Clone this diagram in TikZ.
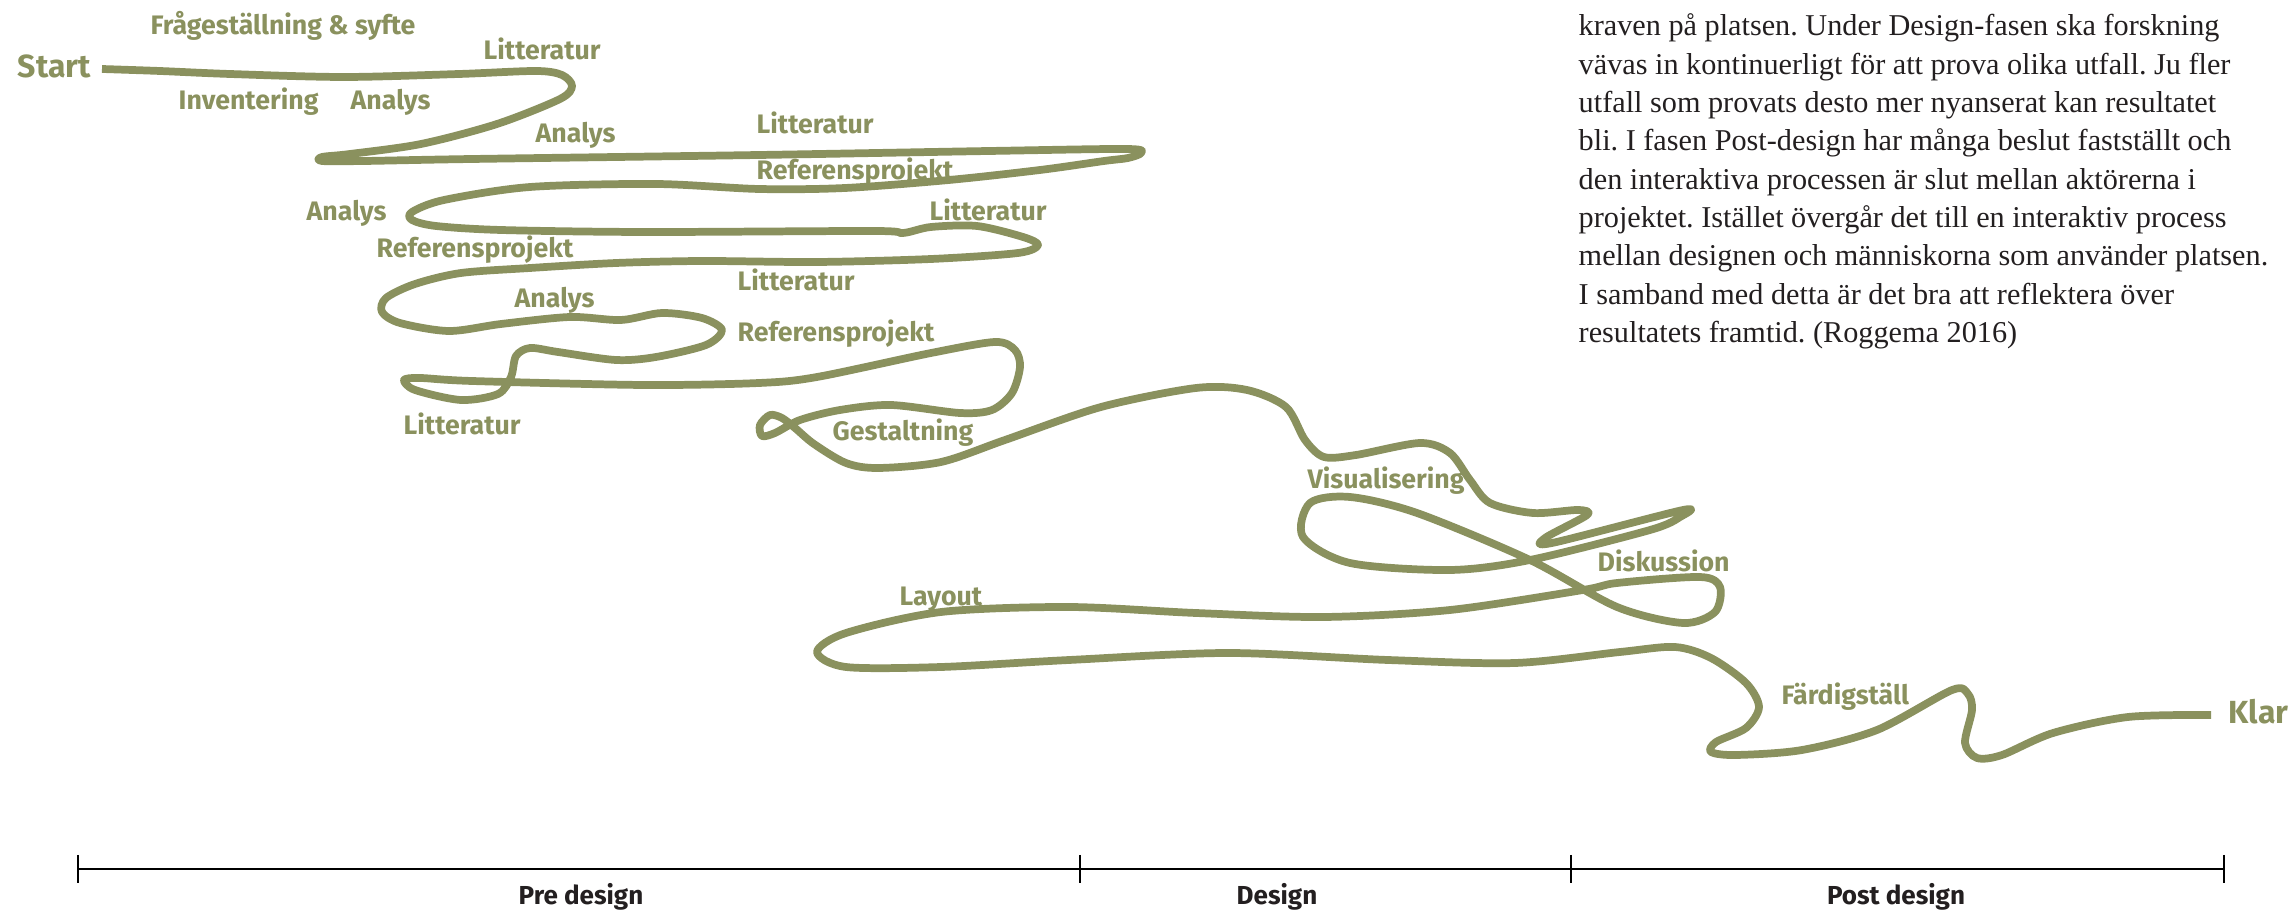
\documentclass[tikz,border=0pt]{standalone}
\usepackage{fontspec}
\setmainfont{Liberation Serif}
\newfontfamily\labfont{Fira Sans}
\definecolor{olive}{RGB}{138,145,94}
\definecolor{ink}{RGB}{35,31,32}
\tikzset{
  lab/.style={anchor=base west, inner sep=0pt, text=olive, font=\labfont\bfseries\fontsize{7.6}{9}\selectfont},
  bigl/.style={anchor=base west, inner sep=0pt, text=olive, font=\labfont\bfseries\fontsize{9.1}{11}\selectfont},
  para/.style={anchor=base west, inner sep=0pt, text=ink, font=\frenchspacing\fontsize{8.6}{10.9}\selectfont},
  phase/.style={anchor=base, inner sep=0pt, text=ink, font=\labfont\bfseries\fontsize{7.4}{9}\selectfont},
  route/.style={draw=olive, line width=2.2pt, line join=round, line cap=butt},
  axis/.style={draw=black, line width=0.8pt},
  tick/.style={draw=black, line width=0.45pt}
}
\begin{document}
\begin{tikzpicture}[x=0.01cm, y=-0.01cm]
\useasboundingbox (0,0) rectangle (2288,910);

% paragraph
\node[para] (p1) at (1578,36) {kraven på platsen. Under Design-fasen ska forskning};
\node[para] (p2) at (1578,74.3) {vävas in kontinuerligt för att prova olika utfall. Ju fler};
\node[para] (p3) at (1578,112.6) {utfall som provats desto mer nyanserat kan resultatet};
\node[para] (p4) at (1578,150.9) {bli. I fasen Post-design har många beslut fastställt och};
\node[para] (p5) at (1578,189.2) {den interaktiva processen är slut mellan aktörerna i};
\node[para] (p6) at (1578,227.5) {projektet. Istället övergår det till en interaktiv process};
\node[para] (p7) at (1578,265.8) {mellan designen och människorna som använder platsen.};
\node[para] (p8) at (1578,304.1) {I samband med detta är det bra att reflektera över};
\node[para] (p9) at (1578,342.4) {resultatets framtid. (Roggema 2016)};

% route
\draw[route] plot[smooth, tension=0.5] coordinates {
(102,69) (160,71) (230,74) (344,77) (459,74) (536,71) (562,75) (572,86) (560,99) (497,124) (421,144) (350,154) (322,157) (322,161) (364,161) (472,159) (759,155) (989,151) (1127,149) (1141,153) (1128,158) (1104,161) (1040,170) (949,180) (845,188) (759,189) (656,184) (530,187) (444,200) (412,212) (412,220) (436,226) (501,230) (644,232) (874,231) (903,233) (931,227) (977,226) (1023,237) (1038,245) (1018,253) (931,259) (817,262) (702,261) (616,263) (530,268) (461,273) (415,284) (386,298) (382,312) (400,323) (449,331) (501,324) (570,317) (621,320) (662,313) (702,318) (722,330) (706,345) (656,357) (616,360) (558,352) (530,348) (516,356) (511,377) (498,394) (461,400) (415,390) (404,380) (420,378) (472,381) (644,385) (759,383) (817,377) (931,353) (995,342) (1015,350) (1020,367) (1012,393) (992,410) (960,413) (891,405) (840,410) (800,420) (775,433) (762,436) (760,425) (770,415) (782,418) (795,428) (814,444) (846,463) (878,468) (941,462) (1005,440) (1101,407) (1196,388) (1247,390) (1286,407) (1305,440) (1324,457) (1356,455) (1420,443) (1450,453) (1470,480) (1490,503) (1533,513) (1578,510) (1587,515) (1545,538) (1552,543) (1683,510) (1680,517) (1650,530) (1530,560) (1450,570) (1350,563) (1303,537) (1310,503) (1350,497) (1417,513) (1530,560) (1617,607) (1683,623) (1715,612) (1720,587) (1700,577) (1617,583) (1583,590) (1450,610) (1324,617) (1196,613) (1069,607) (941,612) (846,633) (817,652) (846,667) (941,667) (1069,660) (1228,653) (1388,660) (1515,663) (1620,652) (1675,647) (1711,658) (1746,683) (1759,707) (1746,728) (1716,742) (1711,752) (1736,755) (1802,750) (1877,730) (1952,690) (1968,694) (1972,710) (1965,743) (1977,758) (2002,755) (2053,733) (2128,717) (2211,715)};

% labels
\node[bigl] (start) at (17,78) {Start};
\node[bigl] (klar) at (2228,723) {Klar};
\node[lab] (l1) at (150,35) {Frågeställning \& syfte};
\node[lab] (l2) at (483,60) {Litteratur};
\node[lab] (l3) at (178,110) {Inventering};
\node[lab] (l4) at (350,110) {Analys};
\node[lab] (l5) at (535,143) {Analys};
\node[lab] (l6) at (756,134) {Litteratur};
\node[lab] (l7) at (756,180) {Referensprojekt};
\node[lab] (l8) at (306,221) {Analys};
\node[lab] (l9) at (929,221) {Litteratur};
\node[lab] (l10) at (376,258) {Referensprojekt};
\node[lab] (l11) at (737,291) {Litteratur};
\node[lab] (l12) at (514,308) {Analys};
\node[lab] (l13) at (737,342) {Referensprojekt};
\node[lab] (l14) at (403,435) {Litteratur};
\node[lab] (l15) at (832,441) {Gestaltning};
\node[lab] (l16) at (1307,489) {Visualisering};
\node[lab] (l17) at (1597,572) {Diskussion};
\node[lab] (l18) at (899,606) {Layout};
\node[lab] (l19) at (1781,705) {Färdigställ};

% timeline
\coordinate (t0) at (78,869);
\coordinate (t1) at (1080,869);
\coordinate (t2) at (1571,869);
\coordinate (t3) at (2224,869);
\draw[axis] (t0) -- (t3);
\foreach \t in {t0,t1,t2,t3} \draw[tick] ([yshift=0.14cm]\t) -- ([yshift=-0.14cm]\t);
\node[phase] (pre) at (581,904) {Pre design};
\node[phase] (des) at (1277,904) {Design};
\node[phase] (post) at (1896,904) {Post design};
\end{tikzpicture}
\end{document}
